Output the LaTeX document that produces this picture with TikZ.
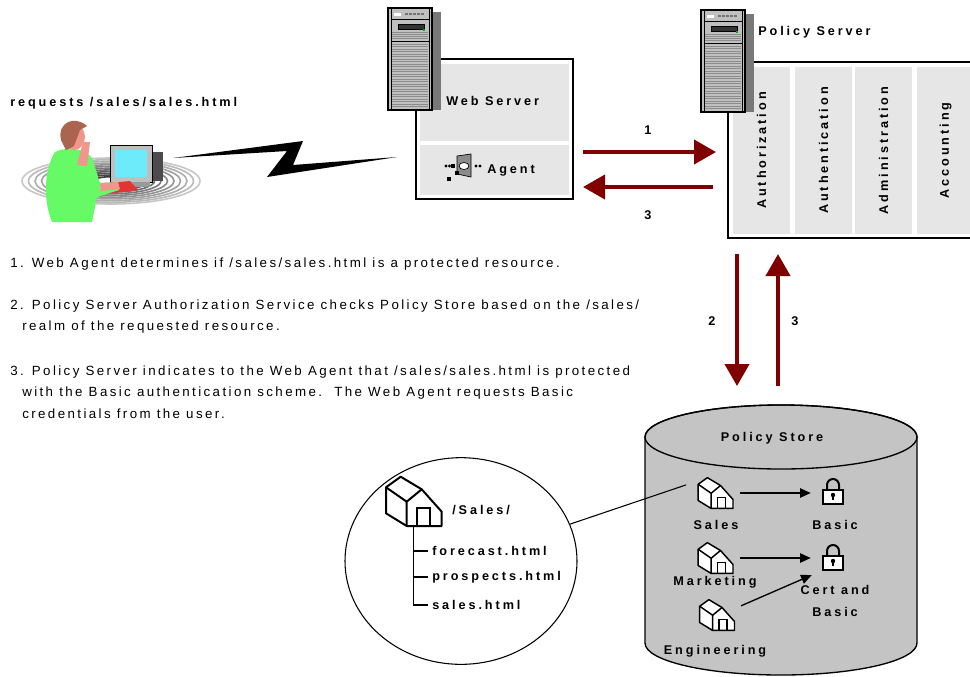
\documentclass[tikz,border=0pt]{standalone}
\usepackage{fontspec}
\setmainfont{Liberation Sans}
\newfontfamily\spaced[LetterSpace=23]{Liberation Sans}
\newfontfamily\bodyspaced[LetterSpace=18]{Liberation Sans}
\usetikzlibrary{arrows.meta, calc, fit, shapes.geometric}
\definecolor{darkred}{RGB}{128,0,0}
\definecolor{panelgray}{RGB}{230,230,230}
\definecolor{storegray}{RGB}{196,196,196}
\definecolor{towerfront}{RGB}{192,192,192}
\definecolor{towerside}{RGB}{120,120,120}
\definecolor{screen}{RGB}{110,235,250}
\definecolor{shirt}{RGB}{102,250,102}
\definecolor{skin}{RGB}{240,150,140}
\definecolor{hair}{RGB}{170,100,80}
\definecolor{kbd}{RGB}{230,50,50}

\begin{document}
\begin{tikzpicture}[x=0.75pt, y=-0.75pt,
    lbl/.style={font=\spaced\bfseries\fontsize{9.5}{11}\selectfont, inner sep=0},
    txt/.style={font=\bodyspaced\fontsize{10}{12}\selectfont, inner sep=0, anchor=west},
    panel/.style={fill=panelgray, draw=none, inner sep=0},
    frame/.style={draw=black, line width=1.1pt, fill=white, inner sep=0, outer sep=0},
    redarrow/.style={draw=darkred, line width=3pt, -{Triangle[length=16.5pt, width=18pt]}},
    blackarrow/.style={draw=black, line width=1pt, -{Triangle[length=8pt, width=7pt]}},
    tower/.pic={
      \fill[towerside] (44,4) rectangle (53,102);
      \draw[fill=towerfront, line width=0.8pt] (0,0) rectangle (44,102);
      \draw[line width=0.5pt] (3,0) -- (3,102) (41,0) -- (41,102);
      \fill[white] (6,5) rectangle (13,8);
      \foreach \x in {17,21,25,29,33} \fill[black!55] (\x,5) rectangle +(2.5,2);
      \draw[line width=0.5pt] (3,11) -- (41,11);
      \draw[fill=black!80, line width=0.5pt] (10,16) rectangle (36,21);
      \fill[green!70!black] (35,21) rectangle +(2,2);
      \foreach \y in {24,26,28,30} \draw[black!45, line width=0.4pt] (4,\y) -- (40,\y);
      \draw[line width=0.5pt] (3,33) -- (41,33);
      \foreach \y in {36,38.5,...,100} \draw[black!45, line width=0.4pt] (4,\y) -- (40,\y);
    },
    house/.pic={
      \node[inner sep=0, minimum width=42pt, minimum height=37pt, transform shape] (-box) {};
      \draw[fill=white, line join=round] (-27.7,-14) -- (-13,-24.6) -- (8,-12) -- (28,10.4)
        -- (28,24.7) -- (-7,24.7) -- (-27.7,12) -- cycle;
      \draw[line join=round] (-27.7,-14) -- (-7,0.4) -- (8,-12) (-7,0.4) -- (-7,24.7);
      \draw (3,24.7) -- (3,7) -- (16.3,7) -- (16.3,24.7);
    },
    lock/.pic={
      \node[inner sep=0, minimum width=15pt, minimum height=19.5pt] (-box) {};
      \draw[line width=1.5pt] (-6,-1) -- (-6,-6) arc[start angle=180, end angle=360, radius=6] -- (6,-1);
      \draw[fill=white, line width=1.3pt] (-10,-1) rectangle (10,13);
      \fill (0,4) circle[radius=2.2];
      \fill (-1,4) rectangle (1,9);
    }
  ]
  \useasboundingbox (0,0) rectangle (970,676);
  \fill[white] (0,0) rectangle (970,676);

  % user at the workstation
  \node[lbl, anchor=west] (request) at (10,103) {requests /sales/sales.html};
  \foreach \k in {0,...,11} {
    \pgfmathtruncatemacro\ringshade{\k*5+22}
    \draw[black!\ringshade, line width=1.2pt] (111,181) ellipse[x radius=89-\k*6.5, y radius=23-\k*1.7];
  }
  \fill[black!70] (150,152) rectangle (163,181);
  \draw[fill=black!25, line width=0.5pt] (110,145) rectangle (152,182);
  \fill[screen] (115,150) rectangle (147,177);
  \fill[black!40] (117,182) rectangle (150,187);
  \fill[kbd] (100,184) -- (130,181) -- (138,190) -- (105,194) -- cycle;
  \fill[shirt] (55,152) .. controls (68,146) and (84,148) .. (92,158) -- (100,183)
    -- (118,182) -- (119,190) -- (97,197) -- (92,222) -- (52,222)
    .. controls (43,200) and (44,170) .. cycle;
  \fill[skin] (74,137) ellipse[x radius=11, y radius=13];
  \fill[hair] (61,140) .. controls (57,122) and (75,115) .. (87,126) -- (80,130)
    -- (74,146) -- (66,150) -- cycle;
  \fill[skin] (77,165) -- (83,142) -- (90,142) -- (87,166) -- cycle;
  \fill[skin] (100,183) -- (118,182) -- (120,189) -- (101,191) -- cycle;
  \coordinate (user) at (173,158);

  % web server with its agent
  \node[frame, fit={(416,59) (573,199)}] (webbox) {};
  \node[panel, fit={(420,64) (569,141)}] (webpanel) {};
  \node[panel, fit={(420,145) (569,195)}] (agentpanel) {};
  \pic at (388,8) {tower};
  \node[lbl, anchor=west] at (446,101) {Web Server};
  \node[lbl, anchor=west] (agent) at (487,170) {Agent};
  \fill[black!45] (457,156) -- (471,154) -- (471,177) -- (457,174) -- cycle;
  \draw[line width=0.5pt] (457,156) -- (471,154) -- (471,177) -- (457,174) -- cycle;
  \draw[fill=white, line width=0.5pt] (464,166) ellipse[x radius=5, y radius=3.5];
  \foreach \x in {446,449.5,476,480} \fill (\x,166) circle[radius=1.6];
  \fill (451,164) rectangle (455,168);
  \fill (455,171) rectangle (459,175);
  \fill (447,177) rectangle (451,181);

  % link from the browser to the web server
  \fill (user) -- (303,141) -- (293,165) -- (397,157) -- (267,177) -- (287,151) -- cycle;

  % policy server and its services
  \node[frame, fit={(728,62) (990,238)}] (policybox) {};
  \foreach \name/\x/\service in {authz/733/Authorization, authn/795/Authentication,
      admin/855/Administration, acct/917/Accounting} {
    \node[panel, fit={(\x,67) (\x+57,234)}] (\name) {};
    \node[lbl, rotate=90] at (\name) {\service};
  }
  \pic at (701,10) {tower};
  \node[lbl, anchor=west] at (758,32) {Policy Server};

  % policy store
  \node[fit={(645,405) (917,676)}, inner sep=0, outer sep=0] (store) {};
  \filldraw[fill=storegray, line width=1pt] (645,437) -- (645,643)
    arc[start angle=180, end angle=0, x radius=136, y radius=32] -- (917,437)
    arc[start angle=0, end angle=-180, x radius=136, y radius=32] -- cycle;
  \draw[line width=1pt] (781,437) ellipse[x radius=136, y radius=32];
  \node[lbl] at (772,438) {Policy Store};

  \pic[scale=0.625, line width=1.1pt] (sales) at (715.5,493) {house};
  \pic[scale=0.625, line width=1.1pt] (mkt) at (715.5,558) {house};
  \pic[scale=0.625, line width=1.1pt] (eng) at (717,615) {house};
  \pic (basic1) at (833,491) {lock};
  \pic (basic2) at (833,557) {lock};
  \node[lbl] at (716,525) {Sales};
  \node[lbl] at (715,582) {Marketing};
  \node[lbl] at (715,651) {Engineering};
  \node[lbl] at (835,525) {Basic};
  \node[lbl] at (835,590) {Cert and};
  \node[lbl] at (835,612) {Basic};

  \draw[blackarrow, shorten <=5pt, shorten >=9pt] (sales-box.east) -- (sales-box.east -| basic1-box.west);
  \draw[blackarrow, shorten <=5pt, shorten >=9pt] (mkt-box.east) -- (mkt-box.east -| basic2-box.west);
  \draw[blackarrow, shorten <=5pt, shorten >=9pt] ([yshift=-7pt]eng-box.north east) -- (basic2-box.south west);

  % realm detail
  \node[ellipse, draw, line width=0.8pt, minimum width=174pt, minimum height=155pt, inner sep=0] (detail) at (461,561) {};
  \pic[line width=1.5pt] (realm) at (413.7,501.3) {house};
  \node[lbl, anchor=west] at (452,510) {/Sales/};
  \node[lbl, anchor=west] (f1) at (432,551) {forecast.html};
  \node[lbl, anchor=west] (f2) at (432,577) {prospects.html};
  \node[lbl, anchor=west] (f3) at (432,605) {sales.html};
  \draw[line width=1pt] (realm-box.south) |- ([xshift=-3pt]f3.west);
  \draw[line width=1pt] (realm-box.south |- f1.west) -- ([xshift=-3pt]f1.west);
  \draw[line width=1pt] (realm-box.south |- f2.west) -- ([xshift=-3pt]f2.west);
  \draw[line width=0.8pt, shorten >=9pt] (detail) -- ([yshift=9pt]sales-box.west);

  % request flow
  \draw[redarrow] ($(webbox.east)+(10,23)$) -- ($(policybox.west)+(-12,2)$);
  \draw[redarrow] ($(policybox.west)+(-15,37)$) -- ($(webbox.east)+(10,58)$);
  \draw[redarrow] ($(policybox.south west)+(9,16)$) -- ($(store.north)+(-44,-19)$);
  \draw[redarrow] ($(store.north)+(-3,-19)$) -- ($(policybox.south west)+(50,16)$);
  \node[lbl] at (648,130) {1};
  \node[lbl] at (648,215) {3};
  \node[lbl] at (712,321) {2};
  \node[lbl] at (795,321) {3};

  % steps
  \node[txt] (note1) at (10,264) {1. Web Agent determines if /sales/sales.html is a protected resource.};
  \node[txt] (note2) at (10,306) {2. Policy Server Authorization Service checks Policy Store based on the /sales/};
  \node[txt] (note2b) at (22,327) {realm of the requested resource.};
  \node[txt] (note3) at (10,372) {3. Policy Server indicates to the Web Agent that /sales/sales.html is protected};
  \node[txt] (note3b) at (22,393) {with the Basic authentication scheme.\ \ The Web Agent requests Basic};
  \node[txt] (note3c) at (22,414) {credentials from the user.};
\end{tikzpicture}
\end{document}
